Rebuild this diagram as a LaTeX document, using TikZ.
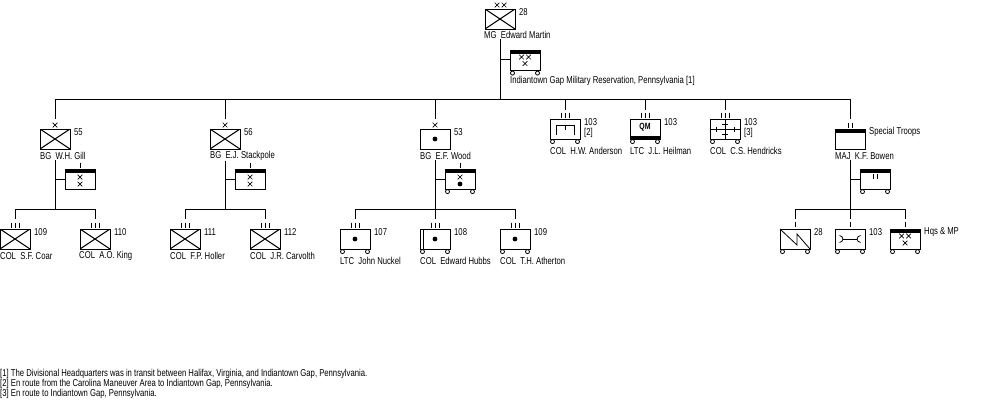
\documentclass[tikz,border=0pt]{standalone}
\usepackage{fontspec}
\setmainfont[FakeStretch=0.77]{Liberation Sans}
\tikzset{
    unit/.style={draw,line width=1pt,minimum width=30pt,minimum height=20pt,inner sep=0pt,outer sep=0pt},
    inf/.style={unit,path picture={
        \draw (path picture bounding box.north west) -- (path picture bounding box.south east);
        \draw (path picture bounding box.south west) -- (path picture bounding box.north east);}},
    dot/.style={unit,path picture={
        \fill (path picture bounding box.center) circle (2.4pt);}},
    topbar/.style={unit,path picture={
        \fill (path picture bounding box.north west) rectangle ([yshift=-3.5pt]path picture bounding box.north east);}},
    lowbar/.style={unit,path picture={
        \fill (path picture bounding box.south west) rectangle ([yshift=3.5pt]path picture bounding box.south east);}},
    tag/.style={anchor=west,inner sep=0pt,font=\fontsize{10pt}{10pt}\selectfont},
    link/.style={line width=1pt}
}
% wheels under a box
\newcommand{\wheels}[1]{
    \draw[line width=0.8pt] ([xshift=2.5pt,yshift=-2.6pt]#1.south west) circle (2pt);
    \draw[line width=0.8pt] ([xshift=-2.5pt,yshift=-2.6pt]#1.south east) circle (2pt);
}
% crossed mark at a point
\newcommand{\xmark}[2]{
    \draw[line width=0.7pt] (#1-2.3,#2-2.3) -- (#1+2.3,#2+2.3) (#1-2.3,#2+2.3) -- (#1+2.3,#2-2.3);
}
% upright bars above a box, centred at a point
\newcommand{\barsI}[2]{\draw[line width=0.8pt] (#1,#2-2.5) -- (#1,#2+2.5);}
\newcommand{\barsII}[2]{\barsI{#1-2}{#2}\barsI{#1+2}{#2}}
\newcommand{\barsIII}[2]{\barsI{#1-4}{#2}\barsI{#1}{#2}\barsI{#1+4}{#2}}
\begin{document}
\begin{tikzpicture}[x=1pt,y=-1pt]
    \useasboundingbox (0,0) rectangle (1000,400);

    %NODE
    \node[inf] (DIV) at (500,19){};
    \node[tag] (DIVnum) at (519,12){28};
    \node[tag] (DIVcmd) at (484,35){MG\ \ Edward Martin};
    \node[topbar] (DIVhq) at (525,60.5){};
    \node[tag] (DIVloc) at (510,81){Indiantown Gap Military Reservation, Pennsylvania [1]};
    \coordinate (DIVj) at (500,59);
    \coordinate (DIVk) at (500,99);
    \coordinate (Top55) at (55,99);
    \coordinate (Top56) at (225,99);
    \coordinate (Top53) at (435,99);
    \coordinate (Top103a) at (565,99);
    \coordinate (Top103b) at (645,99);
    \coordinate (Top103c) at (725,99);
    \coordinate (Top28) at (850,99);

    %FIRST BRIGADE
    \node[inf] (B55) at (55,139){};
    \node[tag] (B55num) at (74,132){55};
    \node[tag] (B55cmd) at (40,156){BG\ \ W.H. Gill};
    \node[topbar] (B55hq) at (80,179){};
    \node[inf] (R109) at (15,239){};
    \node[tag] (R109num) at (34,232){109};
    \node[tag] (R109cmd) at (0,256){COL\ \ S.F. Coar};
    \node[inf] (R110) at (95,239){};
    \node[tag] (R110num) at (114,232){110};
    \node[tag] (R110cmd) at (79,256){COL\ \ A.O. King};
    \coordinate (B55j) at (55,179);
    \coordinate (B55k) at (55,209);
    \coordinate (R109t) at (15,209);
    \coordinate (R110t) at (95,209);

    %SECOND BRIGADE
    \node[inf] (B56) at (225,139){};
    \node[tag] (B56num) at (244,132){56};
    \node[tag] (B56cmd) at (210,156){BG\ \ E.J. Stackpole};
    \node[topbar] (B56hq) at (250,179){};
    \node[inf] (R111) at (185,239){};
    \node[tag] (R111num) at (204,232){111};
    \node[tag] (R111cmd) at (170,256){COL\ \ F.P. Holler};
    \node[inf] (R112) at (265,239){};
    \node[tag] (R112num) at (284,232){112};
    \node[tag] (R112cmd) at (250,256){COL\ \ J.R. Carvolth};
    \coordinate (B56j) at (225,179);
    \coordinate (B56k) at (225,209);
    \coordinate (R111t) at (185,209);
    \coordinate (R112t) at (265,209);

    %ARTILLERY
    \node[dot] (B53) at (435,139){};
    \node[tag] (B53num) at (454,132){53};
    \node[tag] (B53cmd) at (420,156){BG\ \ E.F. Wood};
    \node[topbar] (B53hq) at (460,179){};
    \node[dot] (F107) at (355,239){};
    \node[tag] (F107num) at (374,232){107};
    \node[tag] (F107cmd) at (340,261){LTC\ \ John Nuckel};
    \node[dot] (F108) at (435,239){};
    \node[tag] (F108num) at (454,232){108};
    \node[tag] (F108cmd) at (420,261){COL\ \ Edward Hubbs};
    \node[dot] (F109) at (515,239){};
    \node[tag] (F109num) at (534,232){109};
    \node[tag] (F109cmd) at (500,261){COL\ \ T.H. Atherton};
    \coordinate (B53j) at (435,179);
    \coordinate (B53k) at (435,209);
    \coordinate (F107t) at (355,209);
    \coordinate (F109t) at (515,209);

    %DIVISION UNITS
    \node[unit] (E103) at (565,129){};
    \node[tag] (E103num) at (584,122){103};
    \node[tag] (E103note) at (584,133){[2]};
    \node[tag] (E103cmd) at (550,151){COL\ \ H.W. Anderson};
    \node[lowbar] (Q103) at (645,129){};
    \node[font=\fontsize{9pt}{9pt}\selectfont\bfseries] (Q103txt) at (645,127){QM};
    \node[tag] (Q103num) at (664,122){103};
    \node[tag] (Q103cmd) at (630,151){LTC\ \ J.L. Heilman};
    \node[unit] (M103) at (725,129){};
    \node[tag] (M103num) at (744,122){103};
    \node[tag] (M103note) at (744,133){[3]};
    \node[tag] (M103cmd) at (710,151){COL\ \ C.S. Hendricks};

    %SPECIAL TROOPS
    \node[topbar] (ST) at (850,139){};
    \node[tag] (STnum) at (869,132){Special Troops};
    \node[tag] (STcmd) at (835,156){MAJ\ \ K.F. Bowen};
    \node[topbar] (SThq) at (875,179){};
    \node[unit] (S28) at (795,239){};
    \node[tag] (S28num) at (814,232){28};
    \node[unit] (O103) at (850,239){};
    \node[tag] (O103num) at (869,232){103};
    \node[topbar] (HM) at (905,239){};
    \node[tag] (HMnum) at (924,232){Hqs \& MP};
    \coordinate (STj) at (850,179);
    \coordinate (STk) at (850,209);
    \coordinate (S28t) at (795,209);
    \coordinate (HMt) at (905,209);

    %NOTES
    \node[tag] (N1) at (0,374){[1] The Divisional Headquarters was in transit between Halifax, Virginia, and Indiantown Gap, Pennsylvania.};
    \node[tag] (N2) at (0,384){[2] En route from the Carolina Maneuver Area to Indiantown Gap, Pennsylvania.};
    \node[tag] (N3) at (0,394){[3] En route to Indiantown Gap, Pennsylvania.};

    %EDGE
    \draw[link] (DIVcmd.south -| DIV) -- (DIVk);
    \draw[link] (DIVj) -- (DIVhq.west |- DIVj);
    \draw[link] (Top55) -- (Top28);
    \draw[link] (Top55) -- ++(0,20);
    \draw[link] (Top56) -- ++(0,20);
    \draw[link] (Top53) -- ++(0,20);
    \draw[link] (Top103a) -- ++(0,11);
    \draw[link] (Top103b) -- ++(0,11);
    \draw[link] (Top103c) -- ++(0,11);
    \draw[link] (Top28) -- ++(0,20);

    \draw[link] (B55cmd.south -| B55) -- (B55k);
    \draw[link] (B55j) -- (B55hq.west);
    \draw[link] (R109t) -- (R110t);
    \draw[link] (R109t) -- ++(0,10);
    \draw[link] (R110t) -- ++(0,10);

    \draw[link] (B56cmd.south -| B56) -- (B56k);
    \draw[link] (B56j) -- (B56hq.west);
    \draw[link] (R111t) -- (R112t);
    \draw[link] (R111t) -- ++(0,10);
    \draw[link] (R112t) -- ++(0,10);

    \draw[link] (B53cmd.south -| B53) -- (B53k);
    \draw[link] (B53k) -- ++(0,10);
    \draw[link] (B53j) -- (B53hq.west);
    \draw[link] (F107t) -- (F109t);
    \draw[link] (F107t) -- ++(0,10);
    \draw[link] (F109t) -- ++(0,10);

    \draw[link] (STcmd.south -| ST) -- (STk);
    \draw[link] (STj) -- (SThq.west);
    \draw[link] (S28t) -- (HMt);
    \draw[link] (S28t) -- ++(0,10);
    \draw[link] (STk) -- ++(0,10);
    \draw[link] (HMt) -- ++(0,10);

    %MARKS
    \xmark{497}{5}\xmark{504}{5}
    \xmark{521.5}{57}\xmark{528.5}{57}\xmark{525}{63.5}
    \wheels{DIVhq}
    \xmark{55}{125}\xmark{80}{177}\xmark{80}{184}\barsI{80}{165}
    \barsIII{15}{225}\barsIII{95}{225}
    \xmark{225}{125}\xmark{250}{177}\xmark{250}{184}\barsI{250}{165}
    \barsIII{185}{225}\barsIII{265}{225}
    \xmark{435}{125}\xmark{460}{177}\barsI{460}{165}
    \fill (460,184) circle (2.4pt);
    \wheels{B53hq}\wheels{F107}\wheels{F108}\wheels{F109}
    \barsIII{355}{225}\barsIII{435}{225}\barsIII{515}{225}
    \draw[line width=0.8pt] (423,229) -- (423,249);
    \barsIII{565}{115}\barsIII{645}{115}\barsIII{725}{115}
    \wheels{E103}\wheels{Q103}\wheels{M103}
    % engineer
    \draw[line width=0.8pt] (556,135) -- (556,125) -- (574,125) -- (574,135) (565,125) -- (565,130);
    % signal
    \draw[line width=0.8pt] (710,129) -- (740,129) (725,119) -- (725,139);
    \draw[line width=0.8pt] (716,126.5) -- (716,131.5) (734,126.5) -- (734,131.5);
    \draw[line width=0.8pt] (722,124) -- (728,124) (722,134) -- (728,134);
    \barsII{850}{125}\barsII{875}{176}
    \wheels{SThq}
    \barsI{795}{224}\barsI{850}{224}\barsI{905}{224}
    \wheels{S28}\wheels{O103}\wheels{HM}
    % ordnance zigzag and wrench
    \draw[line width=0.8pt] (780,229) -- (797,245) -- (797,234) -- (810,249);
    \draw[line width=0.8pt] (843,239) -- (857,239);
    \draw[line width=0.8pt] (839.5,235.5) .. controls (844,236) and (844,242) .. (839.5,242.5);
    \draw[line width=0.8pt] (860.5,235.5) .. controls (856,236) and (856,242) .. (860.5,242.5);
    \xmark{901.5}{236}\xmark{908.5}{236}\xmark{905}{243}
\end{tikzpicture}
\end{document}
